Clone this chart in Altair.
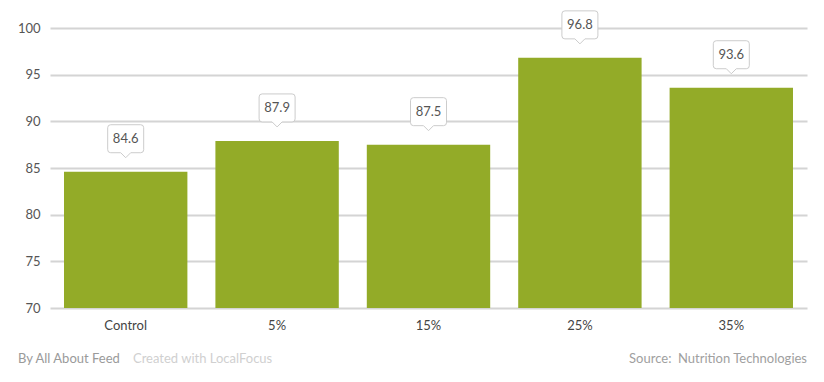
import altair as alt
import pandas as pd

categories = ["Control", "5%", "15%", "25%", "35%"]
values = [84.6, 87.9, 87.5, 96.8, 93.6]
y_ticks = [70, 75, 80, 85, 90, 95, 100]
footer_left = ["By All About Feed"]
footer_mid = ["Created with LocalFocus"]
footer_right = ["Source:\u00a0 Nutrition Technologies"]

FONT = "Lato"
BAR = "#93ab28"

df = pd.DataFrame({"cat": categories, "val": values})
df["label"] = df["val"].map(lambda v: f"{v:.1f}")

x_enc = alt.X(
    "cat:N", sort=categories, title=None,
    scale=alt.Scale(paddingInner=0.185, paddingOuter=0.0925),
    axis=alt.Axis(labelAngle=0, ticks=False, domain=False, labelPadding=11,
                  labelFontSize=13, labelColor="#444", labelFont=FONT, grid=False),
)
y_enc = alt.Y(
    "val:Q", title=None,
    scale=alt.Scale(domain=[70, 100], nice=False, zero=False),
    axis=alt.Axis(values=y_ticks, ticks=False, domain=False, labelPadding=10,
                  gridColor="#d4d4d4", gridWidth=2, labelFontSize=13,
                  labelColor="#555", labelFont=FONT),
)

base = alt.Chart(df)
bars = base.mark_bar(color=BAR).encode(x=x_enc, y=y_enc, y2=alt.datum(70))

callout_path = ("M0,0 L-5,-5 L-15,-5 Q-18,-5 -18,-8 L-18,-30 Q-18,-33 -15,-33 "
                "L15,-33 Q18,-33 18,-30 L18,-8 Q18,-5 15,-5 L5,-5 Z")
boxes = base.mark_point(shape=callout_path, size=4, filled=True, fill="white",
                        stroke="#cccccc", strokeWidth=1, opacity=1, yOffset=-14).encode(
    x=alt.X("cat:N", sort=categories), y="val:Q")
labels = base.mark_text(font=FONT, fontSize=13, color="#555", baseline="middle",
                        yOffset=-33).encode(
    x=alt.X("cat:N", sort=categories), y="val:Q", text="label:N")

f1 = alt.Chart(pd.DataFrame({"t": footer_left})).mark_text(
    font=FONT, fontSize=13, color="#9a9a9a", align="left", baseline="middle").encode(
    text="t:N", x=alt.value(-32), y=alt.value(331))
f2 = alt.Chart(pd.DataFrame({"t": footer_mid})).mark_text(
    font=FONT, fontSize=13, color="#d0d0d0", align="left", baseline="middle").encode(
    text="t:N", x=alt.value(83), y=alt.value(331))
f3 = alt.Chart(pd.DataFrame({"t": footer_right})).mark_text(
    font=FONT, fontSize=13, color="#a0a0a0", align="right", baseline="middle").encode(
    text="t:N", x=alt.value(757), y=alt.value(331))

chart = alt.layer(bars, boxes, labels, f1, f2, f3).properties(
    width=757, height=280,
    autosize=alt.AutoSizeParams(type="none"),
    padding={"left": 42, "top": 20, "right": 9, "bottom": 60},
).configure_view(stroke=None).resolve_scale(x="shared", y="shared")

chart.save("out.html", embed_options={"renderer": "svg", "actions": False})
